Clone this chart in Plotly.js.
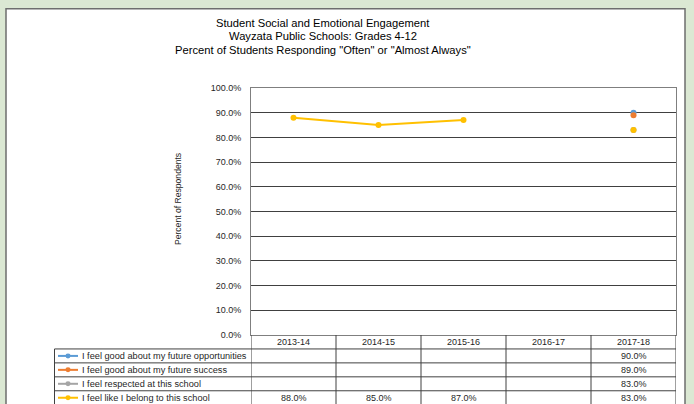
<!DOCTYPE html>
<html>
<head>
<meta charset="utf-8">
<script src="https://cdn.plot.ly/plotly-3.0.1.min.js"></script>
<style>
html,body{margin:0;padding:0;background:#dbe8d3;}
#chart{width:694px;height:404px;}
</style>
</head>
<body>
<div id="chart"></div>
<script>
// ---- data ----
const categories = ["2013-14", "2014-15", "2015-16", "2016-17", "2017-18"];
const seriesNames = [
  "I feel good about my future opportunities",
  "I feel good about my future success",
  "I feel respected at this school",
  "I feel like I belong to this school"
];
const futureOpportunities = [null, null, null, null, 0.90];
const futureSuccess       = [null, null, null, null, 0.89];
const respected           = [null, null, null, null, 0.83];
const belong              = [0.88, 0.85, 0.87, null, 0.83];
const titleLines = [
  "Student Social and Emotional Engagement",
  "Wayzata Public Schools: Grades 4-12",
  "Percent of Students Responding \"Often\" or \"Almost Always\""
];
const yTitle = "Percent of Respondents";

// ---- styling ----
const seriesValues = [futureOpportunities, futureSuccess, respected, belong];
const colors = ["#5b9bd5", "#ed7d31", "#a5a5a5", "#ffc000"];
const FONT = "Liberation Sans, Arial, sans-serif";
const TXT = "#1f1f1f";

// pixel helpers (plot area: x 251..676, y 87.5..335.5)
const L = 251, R = 676, T = 87.5, B = 335.5;
const px = v => (v - L) / (R - L);
const py = v => (B - v) / (B - T);

const traces = seriesValues.map((vals, i) => ({
  type: "scatter",
  mode: "lines+markers",
  x: categories,
  y: vals,
  name: seriesNames[i],
  connectgaps: false,
  line: {color: colors[i], width: 2},
  marker: {color: colors[i], size: 6},
  showlegend: false,
  hoverinfo: "skip"
}));

const shapes = [];
const annotations = [];
const lineCol = "#404040";

// white chart area with border
shapes.push({type: "rect", xref: "paper", yref: "paper", layer: "below",
  x0: px(6), x1: px(685), y0: py(430), y1: py(8),
  fillcolor: "#ffffff", line: {color: "#6e6e6e", width: 1.5}});

// table vertical lines at category boundaries
for (let i = 0; i <= categories.length; i++) {
  shapes.push({type: "line", xref: "x", yref: "paper",
    x0: i - 0.5, x1: i - 0.5, y0: py(B), y1: py(420),
    line: {color: lineCol, width: 1}});
}
// legend column left line
shapes.push({type: "line", xref: "paper", yref: "paper",
  x0: px(54.5), x1: px(54.5), y0: py(349.5), y1: py(420),
  line: {color: lineCol, width: 1}});
// horizontal row lines
const rowTop = 349.5, rowH = 14;
for (let r = 0; r <= seriesNames.length; r++) {
  shapes.push({type: "line", xref: "paper", yref: "paper",
    x0: px(54.5), x1: px(R), y0: py(rowTop + r * rowH), y1: py(rowTop + r * rowH),
    line: {color: lineCol, width: 1}});
}

// legend keys and text in table
seriesNames.forEach((name, i) => {
  const cy = rowTop + rowH * i + rowH / 2;
  shapes.push({type: "line", xref: "paper", yref: "paper",
    x0: px(58), x1: px(78), y0: py(cy), y1: py(cy),
    line: {color: colors[i], width: 2}});
  shapes.push({type: "circle", xref: "paper", yref: "paper",
    x0: px(65.5), x1: px(70.5), y0: py(cy + 2.5), y1: py(cy - 2.5),
    fillcolor: colors[i], line: {color: colors[i], width: 0}});
  annotations.push({xref: "paper", yref: "paper", x: px(79.5), y: py(cy),
    xanchor: "left", yanchor: "middle", showarrow: false, text: name,
    font: {family: FONT, size: 9.2, color: TXT}});
  seriesValues[i].forEach((v, j) => {
    if (v === null) return;
    annotations.push({xref: "x", yref: "paper", x: categories[j], y: py(cy),
      xanchor: "center", yanchor: "middle", showarrow: false,
      text: (v * 100).toFixed(1) + "%",
      font: {family: FONT, size: 9, color: TXT}});
  });
});

// header category labels
categories.forEach(c => {
  annotations.push({xref: "x", yref: "paper", x: c, y: py(342.5),
    xanchor: "center", yanchor: "middle", showarrow: false, text: c,
    font: {family: FONT, size: 9, color: TXT}});
});

// title (one annotation per line for tighter spacing)
titleLines.forEach((t, k) => {
  annotations.push({xref: "paper", yref: "paper", x: px(323), y: py(22 + 13.5 * k),
    xanchor: "center", yanchor: "middle", showarrow: false,
    text: t, font: {family: FONT, size: 11.2, color: "#000000"}});
});

// y axis title
annotations.push({xref: "paper", yref: "paper", x: px(178), y: py(199),
  xanchor: "center", yanchor: "middle", showarrow: false, textangle: -90,
  text: yTitle, font: {family: FONT, size: 8.6, color: TXT}});

const layout = {
  width: 694, height: 404,
  margin: {l: L, r: 694 - R, t: T, b: 404 - B, pad: 0},
  paper_bgcolor: "#dbe8d3",
  plot_bgcolor: "#ffffff",
  xaxis: {type: "category", range: [-0.5, 4.5], showticklabels: false,
    showgrid: false, zeroline: false, showline: true, mirror: true,
    linecolor: "#7f7f7f", linewidth: 1, ticks: "", fixedrange: true},
  yaxis: {range: [0, 1], dtick: 0.1, tick0: 0, tickformat: ".1%",
    showgrid: true, gridcolor: "#404040", gridwidth: 1, zeroline: false,
    showline: true, mirror: true, linecolor: "#7f7f7f", linewidth: 1,
    ticks: "", ticklabelstandoff: 7,
    tickfont: {family: FONT, size: 9, color: TXT}, fixedrange: true},
  shapes: shapes,
  annotations: annotations,
  showlegend: false
};

Plotly.newPlot("chart", traces, layout, {displayModeBar: false, staticPlot: true});
</script>
</body>
</html>
